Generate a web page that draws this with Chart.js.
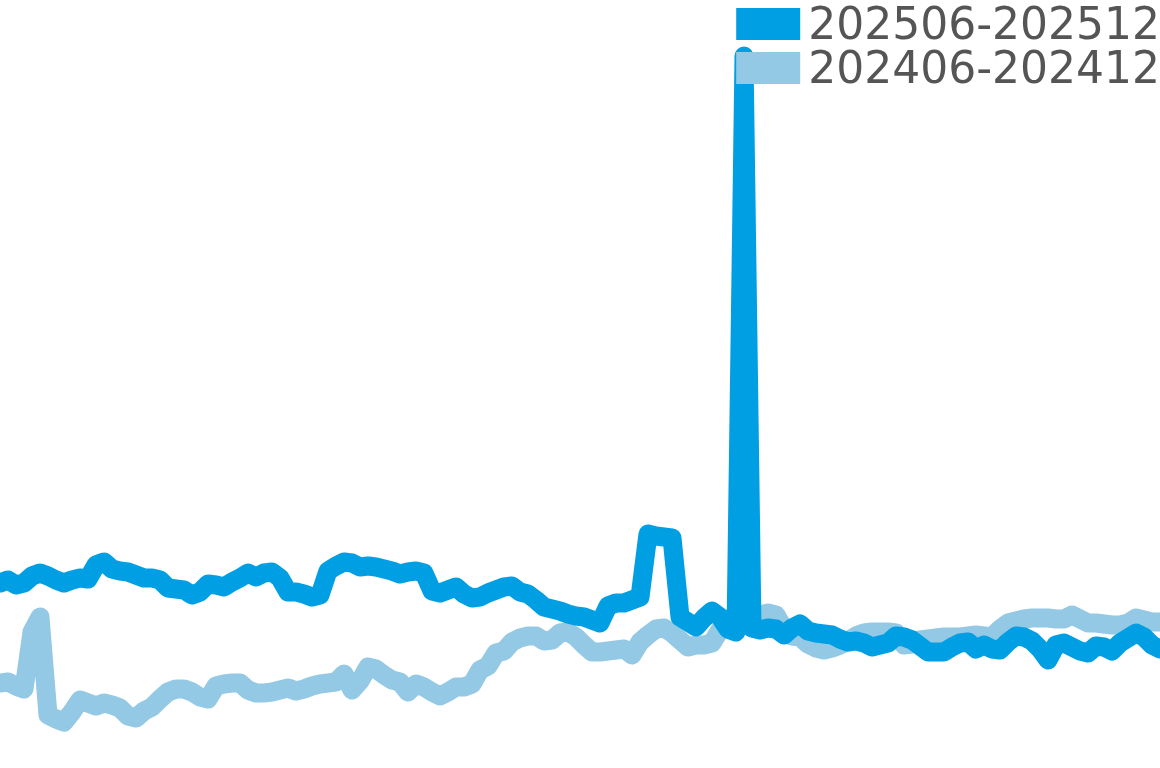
<!DOCTYPE html>
<html>
<head>
<meta charset="utf-8">
<script src="https://cdn.jsdelivr.net/npm/chart.js@4/dist/chart.umd.min.js"></script>
<style>
  html, body { margin: 0; padding: 0; background: #fff; }
  #wrap { width: 1160px; height: 768px; }
</style>
</head>
<body>
<div id="wrap"><canvas id="trend"></canvas></div>
<script>
// series
const seriesNames = ['202506-202512', '202406-202412'];
const seriesColors = ['#009fe3', '#93c9e4'];

const current = [
  92.5, 94, 91.5, 92.5, 96, 97.5, 96, 94, 92.5, 94,
  95, 94.5, 101.5, 103, 99.5, 98.5, 98, 96.5, 95, 95,
  94, 90, 89.5, 89, 86.5, 88, 92, 91.5, 90.5, 93,
  95, 97.5, 95.5, 97.5, 98, 95, 88, 88, 87, 85.5,
  86.5, 98.5, 101, 103, 102.5, 100.5, 101, 100.5, 99.5, 98.5,
  97, 98, 98.5, 97.5, 88.5, 87.5, 89, 90.5, 87, 85,
  85.5, 87.5, 89, 90.5, 91, 88, 87, 84, 80.5, 79.5,
  78.5, 77, 76, 75.5, 74, 72.5, 81, 82.5, 82.5, 84,
  85.5, 117, 116, 115.5, 115, 75.5, 73, 70.5, 75, 78.5,
  75.5, 69.5, 68, 356, 70, 69, 70, 69.5, 66.5, 70,
  72, 68.5, 67.5, 67, 66.5, 64.5, 63, 63.5, 62.5, 60.5,
  61.5, 62.5, 66, 65.5, 64, 61, 58, 58, 58, 60.5,
  62.5, 63, 59.5, 61.5, 59.5, 59, 63, 66, 65.5, 63.5,
  59.5, 54, 61.5, 62.5, 60.5, 58.5, 57.5, 61, 60.5, 58.5,
  62.5, 65, 67.5, 65.5, 61.5, 59.5
];

const lastYear = [
  42.5, 43, 41, 39.5, 68, 75.5, 26.5, 24.5, 23, 28,
  34, 32.5, 31, 32.5, 31.5, 30, 26, 25, 28.5, 30.5,
  34.5, 38, 39.5, 39.5, 38, 35.5, 34.5, 41, 42, 42.5,
  42.5, 39, 37.5, 37.5, 38, 39, 40, 38.5, 39.5, 41,
  42, 42.5, 43, 47, 39, 43.5, 50.5, 49.5, 46.5, 44,
  43, 38, 42, 40.5, 38, 36, 38, 40.5, 40.5, 42,
  49, 51, 57.5, 58.5, 63, 65, 66, 66, 63.5, 64,
  67.5, 68, 65.5, 61.5, 58, 58, 58.5, 59, 59.5, 56.5,
  63, 66.5, 69.5, 70, 67.5, 64, 60.5, 61.5, 61.5, 62.5,
  69, 74.5, 75.5, 75.5, 75.5, 76.5, 77.5, 76.5, 69.5, 66,
  65.5, 62, 60, 59, 60, 61.5, 63.5, 66, 67.5, 68,
  68, 68, 67.5, 61.5, 62, 64, 64.5, 65, 65.5, 65.5,
  65.5, 66, 66.5, 66, 65.5, 69.5, 72.5, 73.5, 74.5, 75,
  75, 75, 74.5, 74.5, 76.5, 74.5, 72.5, 72.5, 72, 71.5,
  71.5, 72.5, 75, 74, 73, 73
];

const dayLabels = current.map((_, i) => 'd' + (i + 1));

// legend drawn after the lines so it sits on top of them
const legendOnTop = {
  id: 'legendOnTop',
  afterDatasetsDraw(chart) {
    const ctx = chart.ctx;
    ctx.save();
    ctx.font = '44px "DejaVu Sans"';
    ctx.textBaseline = 'alphabetic';
    ctx.textAlign = 'left';
    chart.data.datasets.forEach((ds, i) => {
      const w = ctx.measureText(ds.label).width;
      const textX = chart.width - w;
      const top = 8 + i * 44;
      ctx.fillStyle = ds.borderColor;
      ctx.fillRect(textX - 72, top, 64, 32);
      ctx.fillStyle = '#555555';
      ctx.fillText(ds.label, textX, top + 31);
    });
    ctx.restore();
  }
};

new Chart(document.getElementById('trend').getContext('2d'), {
  type: 'line',
  data: {
    labels: dayLabels,
    datasets: [
      {
        label: seriesNames[0],
        data: current,
        borderColor: seriesColors[0],
        backgroundColor: seriesColors[0],
        borderWidth: 19,
        pointRadius: 0,
        tension: 0,
        borderJoinStyle: 'round',
        borderCapStyle: 'round',
        fill: false
      },
      {
        label: seriesNames[1],
        data: lastYear,
        borderColor: seriesColors[1],
        backgroundColor: seriesColors[1],
        borderWidth: 19,
        pointRadius: 0,
        tension: 0,
        borderJoinStyle: 'round',
        borderCapStyle: 'round',
        fill: false
      }
    ]
  },
  options: {
    responsive: true,
    maintainAspectRatio: false,
    animation: false,
    layout: { padding: 0 },
    plugins: {
      legend: { display: false },
      tooltip: { enabled: false }
    },
    scales: {
      x: { display: false, offset: false },
      y: { display: false, min: 0, max: 384 }
    }
  },
  plugins: [legendOnTop]
});
</script>
</body>
</html>
